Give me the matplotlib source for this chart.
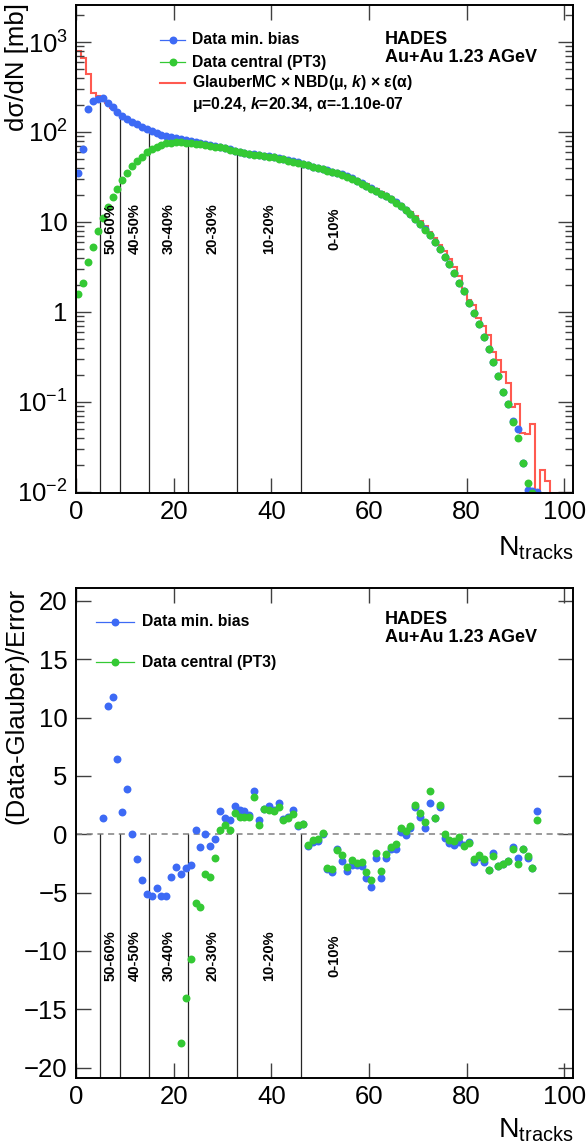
"""
Centrality selection in Au+Au: dsigma/dN of the track multiplicity with the
Glauber MC fit (top) and the pull (Data-Glauber)/Error per bin (bottom).
"""

import numpy as np
import matplotlib
matplotlib.use("Agg")
import matplotlib.pyplot as plt
from matplotlib.ticker import FuncFormatter, NullLocator, NullFormatter

# Fonts (ROOT look: Helvetica -> Liberation Sans)
plt.rcParams['font.family'] = ['Liberation Sans', 'DejaVu Sans']
plt.rcParams['mathtext.fontset'] = 'custom'
plt.rcParams['mathtext.rm'] = 'Liberation Sans'
plt.rcParams['mathtext.it'] = 'Liberation Sans:italic'
plt.rcParams['mathtext.bf'] = 'Liberation Sans:bold'
plt.rcParams['mathtext.bfit'] = 'Liberation Sans:bold:italic'

# Data: one value per N_tracks bin, starting at bin 0
MB_DSIGMA = [35, 65, 180, 222, 232, 240, 212, 188, 166, 150,
             139, 130, 122, 115, 108, 102, 97, 93, 89.5, 87,
             85, 83, 81.5, 80, 77.5, 75, 73, 71, 69.5, 68,
             66, 64, 62, 60, 59, 57.5, 56.5, 55.5, 54.5, 53.5,
             52.5, 51, 50, 48.5, 47, 46, 44.5, 43, 41.3, 40,
             38.8, 37.5, 36.3, 35, 33.7, 32.3, 30.5, 28.8, 27, 25.3,
             23.6, 22, 20.7, 19.5, 18, 16.5, 15.1, 13.7, 12.4, 10.9,
             9.6, 8.3, 7.1, 6.0, 5.0, 4.1, 3.4, 2.7, 2.1, 1.71,
             1.27, 0.98, 0.74, 0.53, 0.39, 0.28, 0.195, 0.128, 0.094, 0.062,
             0.050, 0.021, 0.0105, 0.0103, 0.0099]
PT3_DSIGMA = [1.57, 2.08, 3.56, 5.3, 8.0, 11.1, 14.7, 19.0, 23.5, 29.4,
              35.4, 41.7, 47.5, 53, 59.5, 64, 68.8, 72.3, 74.5, 76,
              76.5, 76.5, 76, 75, 74, 73, 71.5, 70, 68.8, 67.5,
              65.6, 63.6, 61.6, 59.6, 58.6, 57.1, 56, 55.1, 54.1, 53.1,
              52.1, 50.6, 49.6, 48.1, 46.6, 45.6, 44.1, 42.6, 41, 39.7,
              38.5, 37.1, 35.9, 34.7, 33.3, 31.9, 30.2, 28.5, 26.7, 25,
              23.3, 21.8, 20.4, 19.3, 17.8, 16.3, 15.0, 13.6, 12.3, 10.8,
              9.5, 8.2, 7.1, 5.95, 4.95, 4.1, 3.38, 2.68, 2.1, 1.7,
              1.27, 0.98, 0.74, 0.53, 0.39, 0.28, 0.195, 0.128, 0.094, 0.060,
              0.040, 0.021, 0.0125, 0.0097]
GLAUBER = [800, 660, 440, 270, 252, 232, 208, 184, 163, 148,
           137, 128, 120, 113, 107, 101, 96, 92, 89, 86,
           84, 82, 80.5, 79, 77, 75, 73, 71, 69.5, 68,
           66, 64, 62, 60.5, 59, 57.5, 56.3, 55.3, 54.3, 53.3,
           52.2, 51, 49.8, 48.5, 47.2, 45.9, 44.6, 43.2, 41.8, 40.4,
           39.1, 37.8, 36.5, 35.3, 34, 32.7, 31.1, 29.5, 27.8, 26.1,
           24.5, 23, 21.6, 20.2, 18.8, 17.3, 15.8, 14.4, 13, 11.6,
           10.2, 8.9, 7.7, 6.6, 5.6, 4.7, 3.9, 3.15, 2.5, 1.75,
           1.36, 1.18, 0.86, 0.70, 0.56, 0.36, 0.29, 0.215, 0.16, 0.088,
           0.095, 0.045, 0.0436, 0.057, 0, 0.0173, 0.0133, 0, 0, 0,
           0, 0]

# Pulls: min. bias from bin 5, central (PT3) from bin 21
MB_PULL_FIRST = 5
MB_PULL = [1.4, 11.0, 11.75, 6.46, 1.9, 3.9, 0.0, -2.1, -3.9, -5.1,
           -5.3, -4.6, -5.3, -5.3, -3.7, -2.8, -3.4, -2.9, -2.6, 0.4,
           -1.1, 0.0, -1.05, -0.43, 2.0, 1.4, 1.2, 2.4, 2.06, 2.0,
           1.65, 3.66, 1.23, 2.2, 2.4, 2.1, 2.7, 1.3, 1.5, 2.1,
           0.7, 0.9, -1.03, -0.63, -0.57, 0.0, -3.0, -3.2, -1.26, -2.26,
           -3.14, -2.6, -2.66, -2.69, -3.72, -4.49, -2.0, -3.77, -2.0, -1.29,
           -1.29, 0.17, -0.09, 0.57, 2.29, 1.49, 0.5, 2.7, 1.37, 2.29,
           -0.37, -0.74, -0.89, -0.71, -0.94, -0.71, -2.37, -1.94, -2.37, -3.03,
           -1.6, -2.69, -2.57, -2.32, -1.09, -2.0, -1.23, -2.0, -2.86, 2.0]
PT3_PULL_FIRST = 21
PT3_PULL = [-17.9, -14.0, -10.7, -5.9, -6.2, -3.4, -3.7, -2.0, 0.4, 0.8,
            0.4, 1.8, 1.5, 1.5, 1.5, 3.2, 0.8, 2.2, 2.1, 2.0,
            2.3, 1.2, 1.35, 1.7, 0.8, 0.9, -0.9, -0.5, -0.45, 0.1,
            -2.94, -2.99, -1.37, -1.77, -2.8, -2.23, -2.46, -2.4, -3.2, -3.97,
            -1.6, -3.14, -1.66, -1.14, -0.86, 0.51, 0.29, 0.71, 2.46, 1.83,
            1.03, 3.66, 1.37, 2.5, 0.0, -0.51, -0.57, -0.23, -1.0, -0.74,
            -2.17, -1.77, -2.11, -3.03, -1.83, -2.69, -2.57, -2.32, -1.31, -2.52,
            -1.23, -1.83, -2.86, 1.2]

# Centrality classes: bin edges in N_tracks and labels between them
CUTS = [5, 9, 15, 23, 33, 46]
CLASS_LABELS = ["50-60%", "40-50%", "30-40%", "20-30%", "10-20%", "0-10%"]
CLASS_POS = [7, 12, 19, 28, 39.5, 53]

# Styles
BLUE = '#3d6af5'
GREEN = '#34c934'
RED = '#ff5a50'
MS = 5.7
X_MAX = 101.8
Y1_MIN, Y1_MAX = 0.0097, 2580
Y2_MIN, Y2_MAX = -20.9, 21.1
W, H = 586, 1148
TICK_SIZE = 18.5
TITLE_SIZE = 18.5


def px_box(left, top, right, bottom):
    return [left / W, 1 - bottom / H, (right - left) / W, (bottom - top) / H]


def fx(x):
    return x / W


def fy(y):
    return 1 - y / H


def log_label(v, pos):
    e = int(round(np.log10(v)))
    if e == 0:
        return '1'
    if e == 1:
        return '10'
    return r'$\mathregular{10^{%d}}$' % e


def style_axes(ax):
    for s in ax.spines.values():
        s.set_linewidth(1.4)
    ax.tick_params(which='both', direction='in', top=True, right=True,
                   labelsize=TICK_SIZE, width=1.0, color='0.25')
    ax.tick_params(which='major', length=10.5)
    ax.tick_params(which='minor', length=5.5)
    ax.tick_params(axis='x', pad=5)
    ax.tick_params(axis='y', pad=6)
    ax.set_xlim(0, X_MAX)
    ax.set_xticks([0, 20, 40, 60, 80, 100])
    ax.xaxis.set_minor_locator(NullLocator())


def legend_row(x_line0, x_line1, x_text, y, color, text, size):
    fig.add_artist(plt.Line2D([fx(x_line0), fx(x_line1)], [fy(y), fy(y)],
                              color=color, lw=0.9))
    fig.add_artist(plt.Line2D([fx((x_line0 + x_line1) / 2)], [fy(y)], marker='o',
                              ms=MS, color=color, mec='none'))
    fig.text(fx(x_text), fy(y), text, fontsize=size, fontweight='bold',
             ha='left', va='center')


fig = plt.figure(figsize=(W / 100, H / 100), dpi=100)
ax1 = fig.add_axes(px_box(76, 5, 573, 493))
ax2 = fig.add_axes(px_box(76, 588, 573, 1078))

"""
Top panel: dsigma/dN ###################################################################################################
"""

n_mb = np.arange(len(MB_DSIGMA)) + 0.5
n_pt3 = np.arange(len(PT3_DSIGMA)) + 0.5
edges = np.arange(len(GLAUBER) + 1)

ax1.vlines(CUTS, Y1_MIN, [MB_DSIGMA[c] for c in CUTS], color='0.15', lw=0.9)
ax1.plot(n_mb, MB_DSIGMA, 'o', color=BLUE, ms=MS, mec='none')
ax1.plot(n_pt3, PT3_DSIGMA, 'o', color=GREEN, ms=MS, mec='none')
ax1.stairs(np.clip(GLAUBER, Y1_MIN, None), edges, baseline=Y1_MIN, color=RED, lw=1.5)

for pos, lab in zip(CLASS_POS, CLASS_LABELS):
    ax1.text(pos, 8.4, lab, rotation=90, ha='center', va='center',
             fontsize=10.5, fontweight='bold')

ax1.set_yscale('log')
ax1.set_ylim(Y1_MIN, Y1_MAX)
style_axes(ax1)
ax1.yaxis.set_major_formatter(FuncFormatter(log_label))
ax1.yaxis.set_minor_formatter(NullFormatter())
ax1.set_ylabel("dσ/dN [mb]", fontsize=TITLE_SIZE, loc='top')
ax1.yaxis.set_label_coords(-0.095, 1.005)
ax1.set_xlabel(r"$\mathregular{N_{tracks}}$", fontsize=TITLE_SIZE + 2, loc='right')
ax1.xaxis.set_label_coords(1.0, -0.085)

legend_row(160, 185, 192, 40, BLUE, "Data min. bias", 11.3)
legend_row(160, 185, 192, 62, GREEN, "Data central (PT3)", 11.3)
fig.add_artist(plt.Line2D([fx(160), fx(185)], [fy(83), fy(83)], color=RED, lw=1.5))
fig.text(fx(192), fy(83), r"GlauberMC × NBD(μ, $\mathbfit{k}$) × ε(α)", fontsize=11.3,
         fontweight='bold', ha='left', va='center')
fig.text(fx(192), fy(105), r"μ=0.24, $\mathbfit{k}$=20.34, α=-1.10e-07", fontsize=11.3,
         fontweight='bold', ha='left', va='center')
fig.text(fx(385), fy(40), "HADES", fontsize=13, fontweight='bold', ha='left', va='center')
fig.text(fx(385), fy(57), "Au+Au 1.23 AGeV", fontsize=13, fontweight='bold',
         ha='left', va='center')

"""
Bottom panel: pulls ####################################################################################################
"""

n_mb_pull = np.arange(len(MB_PULL)) + MB_PULL_FIRST + 0.5
n_pt3_pull = np.arange(len(PT3_PULL)) + PT3_PULL_FIRST + 0.5

ax2.axhline(0, color='0.5', lw=1.1, ls=(0, (4, 3)))
ax2.vlines(CUTS, Y2_MIN, 0, color='0.15', lw=0.9)
ax2.plot(n_mb_pull, MB_PULL, 'o', color=BLUE, ms=MS, mec='none')
ax2.plot(n_pt3_pull, PT3_PULL, 'o', color=GREEN, ms=MS, mec='none')

for pos, lab in zip(CLASS_POS, CLASS_LABELS):
    ax2.text(pos, -10.4, lab, rotation=90, ha='center', va='center',
             fontsize=10.5, fontweight='bold')

ax2.set_ylim(Y2_MIN, Y2_MAX)
style_axes(ax2)
ax2.set_yticks([-20, -15, -10, -5, 0, 5, 10, 15, 20])
ax2.yaxis.set_major_formatter(FuncFormatter(lambda v, p: f"{int(v)}".replace('-', '\u2212')))
ax2.set_ylabel("(Data-Glauber)/Error", fontsize=TITLE_SIZE, loc='top')
ax2.yaxis.set_label_coords(-0.095, 1.0)
ax2.set_xlabel(r"$\mathregular{N_{tracks}}$", fontsize=TITLE_SIZE + 2, loc='right')
ax2.xaxis.set_label_coords(1.0, -0.078)

legend_row(96, 134, 142, 622, BLUE, "Data min. bias", 11.3)
legend_row(96, 134, 142, 662, GREEN, "Data central (PT3)", 11.3)
fig.text(fx(385), fy(620), "HADES", fontsize=13, fontweight='bold', ha='left', va='center')
fig.text(fx(385), fy(638), "Au+Au 1.23 AGeV", fontsize=13, fontweight='bold',
         ha='left', va='center')

fig.savefig("out.png", dpi=100)
